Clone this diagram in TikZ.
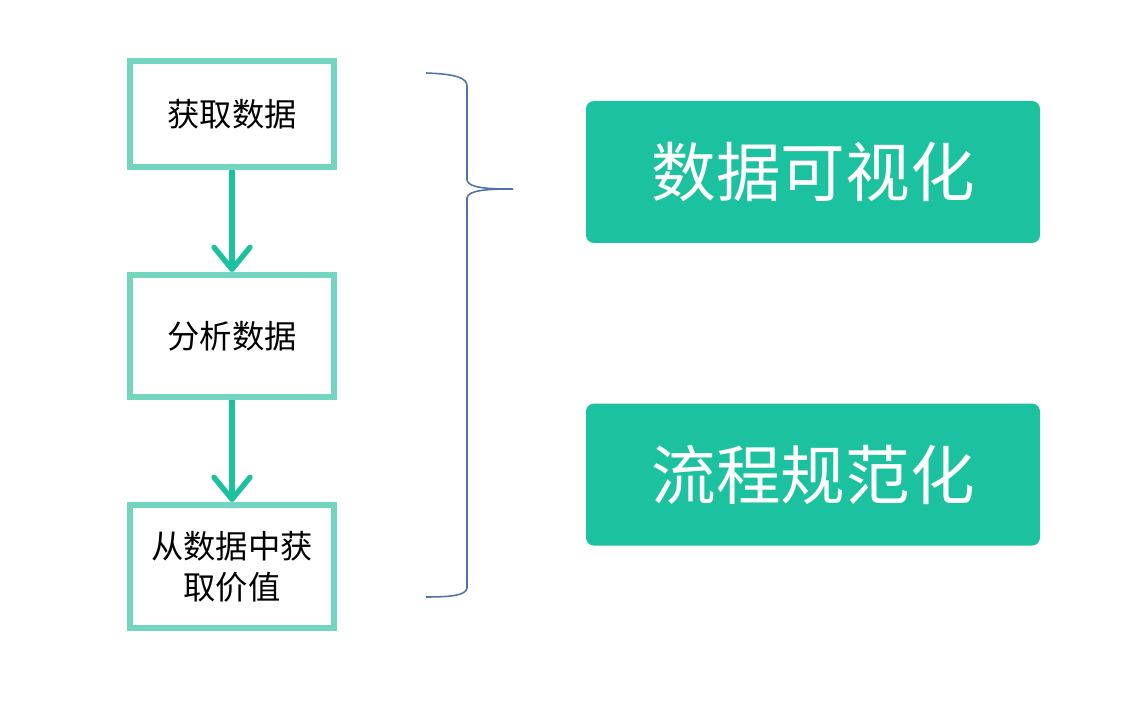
\documentclass[tikz,border=0pt]{standalone}
\usepackage{fontspec}
\newfontfamily\cjk{Noto Sans CJK SC}
\usepackage{tikz}
\usetikzlibrary{positioning}
\usetikzlibrary{arrows.meta}

\definecolor{verde}{HTML}{1CC19F}
\definecolor{verdeclaro}{HTML}{72D5BF}
\definecolor{azul}{HTML}{4F72AE}

\tikzset{
	paso/.style={draw=verdeclaro, line width=0.15cm, fill=white, minimum width=5.1cm, align=center, font=\cjk\fontsize{23}{29}\selectfont},
	flecha/.style={draw=verde, line width=0.135cm, -{Straight Barb[length=0.55cm, width=0.9cm, line cap=round, line join=round]}},
	bloque/.style={fill=verde, rounded corners=0.2cm, minimum width=11.35cm, minimum height=3.55cm, text=white, font=\cjk\fontsize{46}{50}\selectfont}
}

\begin{document}
\begin{tikzpicture}[node distance=2.55cm]
			\fill[white] (0,0) rectangle (28.625,-17.875);
			\useasboundingbox (0,0) rectangle (28.625,-17.875);
			
			\node[paso, minimum height=2.65cm] (A) at (5.8,-2.85) {获取数据};
			\node[paso, minimum height=3.05cm, below=of A] (B) {分析数据};
			\node[paso, minimum height=3.075cm, below=of B] (C) {从数据中获\\取价值};
			
			\draw[flecha] (A) -- (B);
			\draw[flecha] (B) -- (C);
			
			% llave
			\coordinate (arriba) at (10.65,-1.825);
			\coordinate (punta) at (12.825,-4.725);
			\coordinate (abajo) at (10.65,-14.925);
			\draw[azul, line width=1.1pt] (arriba) .. controls (11.4,-1.85) and (11.675,-1.95) .. (11.675,-2.15)
				-- (11.675,-4.5) .. controls (11.7,-4.7) and (12.2,-4.725) .. (punta)
				.. controls (12.2,-4.725) and (11.7,-4.75) .. (11.675,-4.95)
				-- (11.675,-14.7) .. controls (11.65,-14.88) and (11.3,-14.925) .. (abajo);
			
			\node[bloque] (D) at (20.325,-4.3) {数据可视化};
			\node[bloque, below=4cm of D] (E) {流程规范化};
		\end{tikzpicture}
\end{document}
